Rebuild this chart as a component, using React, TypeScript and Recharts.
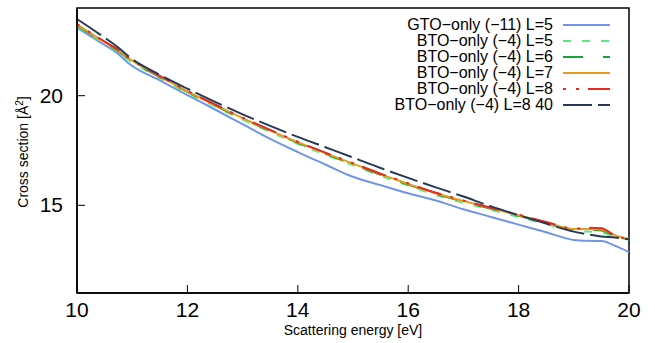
import React from 'react';
import { LineChart, Line, XAxis, YAxis, ReferenceArea } from 'recharts';

// scattering energies in eV
const energy = [10, 10.4, 10.73, 10.97, 11.5, 12, 12.5, 13, 13.5, 14, 14.5, 15, 15.5, 16, 16.5, 17, 17.5, 18, 18.5, 19, 19.25, 19.5, 19.75, 20];

// cross sections in Å^2
const gtoL5 = [23.1, 22.47, 21.94, 21.41, 20.7, 20.03, 19.37, 18.7, 18.03, 17.43, 16.86, 16.3, 15.92, 15.55, 15.22, 14.82, 14.47, 14.12, 13.77, 13.42, 13.38, 13.37, 13.15, 12.87];
const btoL5 = [23.18, 22.53, 22.03, 21.58, 20.81, 20.13, 19.51, 18.91, 18.35, 17.81, 17.31, 16.83, 16.35, 15.9, 15.47, 15.12, 14.79, 14.47, 14.14, 13.84, 13.8, 13.76, 13.57, 13.43];
const btoL6 = [23.22, 22.57, 22.07, 21.62, 20.85, 20.17, 19.55, 18.95, 18.39, 17.85, 17.35, 16.87, 16.39, 15.95, 15.52, 15.17, 14.84, 14.52, 14.19, 13.89, 13.88, 13.85, 13.6, 13.45];
const btoL7 = [23.25, 22.6, 22.1, 21.65, 20.88, 20.2, 19.58, 18.98, 18.42, 17.88, 17.38, 16.9, 16.42, 15.98, 15.55, 15.2, 14.87, 14.55, 14.22, 13.92, 13.92, 13.9, 13.63, 13.46];
const btoL8 = [23.27, 22.62, 22.12, 21.67, 20.9, 20.22, 19.6, 19.0, 18.44, 17.9, 17.4, 16.92, 16.44, 16.0, 15.57, 15.22, 14.89, 14.57, 14.24, 13.94, 13.98, 13.95, 13.62, 13.46];
const btoL8n40 = [23.5, 22.82, 22.23, 21.72, 20.95, 20.32, 19.72, 19.15, 18.62, 18.12, 17.65, 17.18, 16.7, 16.25, 15.82, 15.4, 14.95, 14.55, 14.17, 13.8, 13.68, 13.58, 13.53, 13.45];

const xTicks = [10, 12, 14, 16, 18, 20];
const yTicks = [15, 20];

const series = [
  { key: 'gtoL5', name: 'GTO\u2212only (\u221211) L=5', values: gtoL5, color: '#6f96e6', dash: undefined },
  { key: 'btoL5', name: 'BTO\u2212only (\u22124) L=5', values: btoL5, color: '#5fe681', dash: '8 11' },
  { key: 'btoL6', name: 'BTO\u2212only (\u22124) L=6', values: btoL6, color: '#17a23a', dash: '20 20' },
  { key: 'btoL7', name: 'BTO\u2212only (\u22124) L=7', values: btoL7, color: '#e69d1f', dash: undefined },
  { key: 'btoL8', name: 'BTO\u2212only (\u22124) L=8', values: btoL8, color: '#e8291c', dash: '3 10 3 9 25 9' },
  { key: 'btoL8n40', name: 'BTO\u2212only (\u22124) L=8 40', values: btoL8n40, color: '#283858', dash: '29 6' },
];

const data = energy.map((e, i) => {
  const row: Record<string, number> = { energy: e };
  series.forEach((s) => { row[s.key] = s.values[i]; });
  return row;
});

const font = 'Liberation Sans, Arial, Helvetica, sans-serif';

// ticks point inwards, labels outside
const XTick = (props: any) => {
  const { x, y, payload } = props;
  const axisY = y - 8;
  return (
    <g>
      <line x1={x} x2={x} y1={axisY} y2={axisY - 8} stroke="#000" strokeWidth={1} />
      <text x={x} y={y} dy={16} textAnchor="middle" fontSize={21} fontFamily={font} fill="#000">{payload.value}</text>
    </g>
  );
};

const YTick = (props: any) => {
  const { x, y, payload } = props;
  const axisX = x + 14;
  return (
    <g>
      <line x1={axisX} x2={axisX + 8} y1={y} y2={y} stroke="#000" strokeWidth={1} />
      <text x={x} y={y} dy={7} textAnchor="end" fontSize={21} fontFamily={font} fill="#000">{payload.value}</text>
    </g>
  );
};

const YLabel = () => (
  <text transform="translate(28, 152) rotate(-90)" textAnchor="middle" fontSize={14} fontFamily={font} fill="#000">
    Cross section [Å<tspan dy={-5} fontSize={10}>2</tspan><tspan dy={5}>]</tspan>
  </text>
);

export default function App() {
  return (
    <div style={{ position: 'absolute', left: 0, top: 0, width: 655, height: 343, background: '#fff' }}>
      <LineChart width={655} height={343} data={data} margin={{ top: 8, right: 26, left: 0, bottom: 0 }}>
        <XAxis
          dataKey="energy"
          type="number"
          domain={[10, 20]}
          ticks={xTicks}
          height={50}
          tickSize={0}
          tickMargin={8}
          tickLine={false}
          tick={<XTick />}
          axisLine={{ stroke: '#000', strokeWidth: 1.5 }}
          label={{ value: 'Scattering energy [eV]', position: 'insideBottom', offset: 8, fontSize: 14, fontFamily: font, fill: '#000' }}
        />
        <YAxis
          type="number"
          domain={[11, 24]}
          ticks={yTicks}
          width={77}
          tickSize={0}
          tickMargin={14}
          tickLine={false}
          tick={<YTick />}
          axisLine={{ stroke: '#000', strokeWidth: 1.5 }}
          label={<YLabel />}
        />
        <ReferenceArea x1={10} x2={20} y1={11} y2={24} fill="none" stroke="#000" strokeWidth={1.5} ifOverflow="visible" />
        {series.map((s) => (
          <Line
            key={s.key}
            dataKey={s.key}
            name={s.name}
            type="monotone"
            stroke={s.color}
            strokeWidth={2}
            strokeDasharray={s.dash}
            dot={false}
            isAnimationActive={false}
          />
        ))}
      </LineChart>
      <div style={{ position: 'absolute', top: 17, right: 45, fontFamily: font, fontSize: 16, color: '#000' }}>
        {series.map((s) => (
          <div key={s.key} style={{ display: 'flex', justifyContent: 'flex-end', alignItems: 'center', height: 16 }}>
            <span style={{ lineHeight: '16px', whiteSpace: 'nowrap' }}>{s.name}</span>
            <svg width={47} height={16} style={{ marginLeft: 10 }}>
              <line x1={0} x2={47} y1={8} y2={8} stroke={s.color} strokeWidth={2} strokeDasharray={s.dash} />
            </svg>
          </div>
        ))}
      </div>
    </div>
  );
}
